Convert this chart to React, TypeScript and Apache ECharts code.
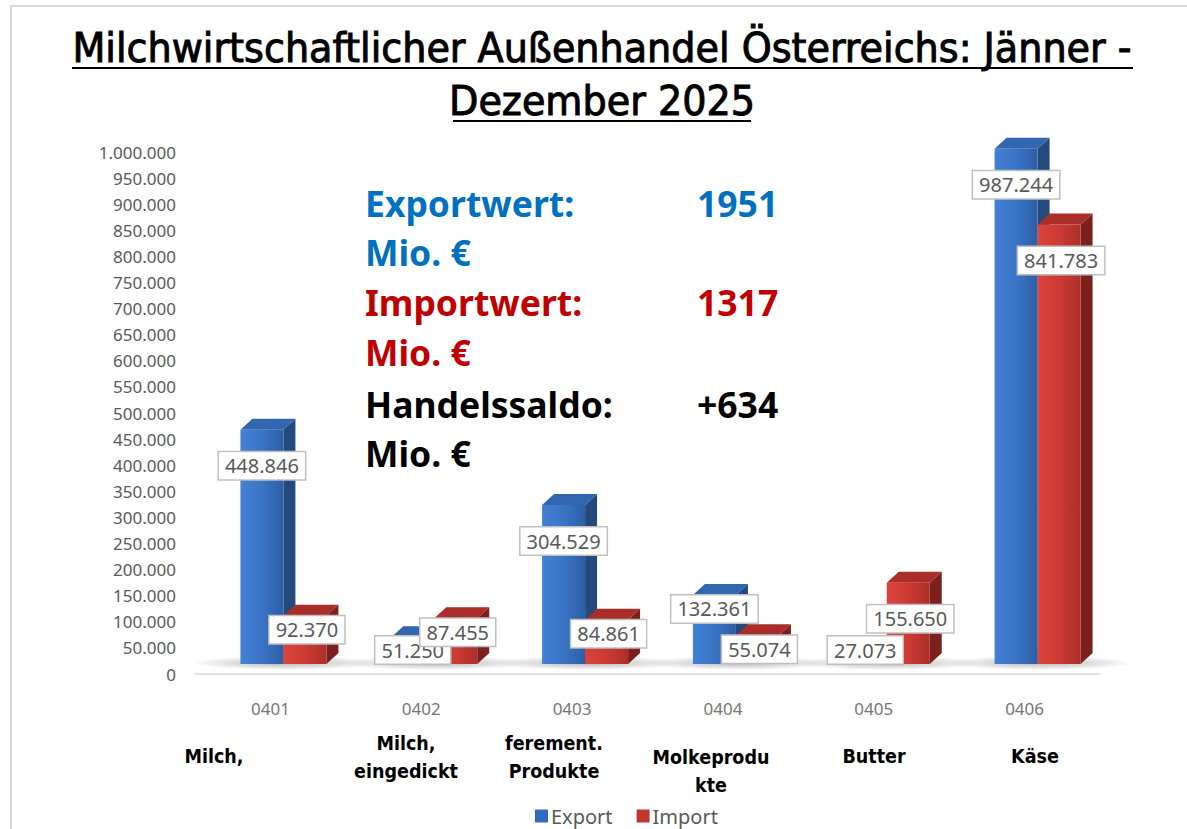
import React, { useEffect, useRef } from "react";
import * as echarts from "echarts";

const categories = ["0401", "0402", "0403", "0404", "0405", "0406"];
const descriptions = ["Milch,", "Milch,\neingedickt", "ferement.\nProdukte", "Molkeprodu\nkte", "Butter", "Käse"];
const exportValues = [448846, 51250, 304529, 132361, 27073, 987244];
const importValues = [92370, 87455, 84861, 55074, 155650, 841783];
const seriesNames = ["Export", "Import"];
const titleLines = ["Milchwirtschaftlicher Außenhandel Österreichs: Jänner -", "Dezember 2025"];
const summaryLabels = ["Exportwert:", "Mio. €", "Importwert:", "Mio. €", "Handelssaldo:", "Mio. €"];
const summaryValues = ["1951", "", "1317", "", "+634", ""];

const fmt = (v: number) => String(Math.round(v)).replace(/\B(?=(\d{3})+(?!\d))/g, ".");

const BW = 43; // bar front width
const SHIFT = 13; // pair centre offset
const LIFT = 10; // front-face lift
const DX = 12;
const DY = 11;

const palettes = [
  { front: ["#4381d6", "#3a74c4", "#2c5ea6"], side: "#24497c", top: "#3266b0", legend: "#2f6cc0" },
  { front: ["#dc443c", "#cc3a33", "#ad2f2a"], side: "#7c201d", top: "#a92d28", legend: "#c0352f" },
];

function geom(api: any, idx: number) {
  const cat = api.value(0);
  const val = api.value(1);
  const c = api.coord([cat, val]);
  const b = api.coord([cat, 0]);
  const left = c[0] + SHIFT + (idx === 0 ? -BW : 0);
  return { left, yTop: c[1] - LIFT, yBot: b[1] - LIFT, val, cx: c[0] };
}

function makeBarRender(idx: number) {
  const p = palettes[idx];
  return (params: any, api: any) => {
    const g = geom(api, idx);
    const h = Math.max(g.yBot - g.yTop, 0);
    const children: any[] = [];
    if (idx === 0) {
      children.push({
        type: "ellipse",
        shape: { cx: g.cx + SHIFT + 2, cy: g.yBot - 1, rx: BW * 2 + 8, ry: 7 },
        style: {
          fill: {
            type: "radial", x: 0.5, y: 0.5, r: 0.5,
            colorStops: [
              { offset: 0, color: "rgba(0,0,0,0.28)" },
              { offset: 0.6, color: "rgba(0,0,0,0.12)" },
              { offset: 1, color: "rgba(0,0,0,0)" },
            ],
          },
        },
      });
    }
    children.push({
      type: "polygon",
      shape: { points: [[g.left + BW, g.yTop], [g.left + BW + DX, g.yTop - DY], [g.left + BW + DX, g.yBot - DY], [g.left + BW, g.yBot]] },
      style: { fill: p.side },
    });
    children.push({
      type: "polygon",
      shape: { points: [[g.left, g.yTop], [g.left + DX, g.yTop - DY], [g.left + BW + DX, g.yTop - DY], [g.left + BW, g.yTop]] },
      style: { fill: p.top },
    });
    children.push({
      type: "rect",
      shape: { x: g.left, y: g.yTop, width: BW, height: h },
      style: {
        fill: {
          type: "linear", x: 0, y: 0, x2: 1, y2: 0,
          colorStops: [
            { offset: 0, color: p.front[0] },
            { offset: 0.5, color: p.front[1] },
            { offset: 1, color: p.front[2] },
          ],
        },
      },
    });
    return { type: "group", children };
  };
}

function makeLabelRender(idx: number) {
  return (params: any, api: any) => {
    const g = geom(api, idx);
    const h = g.yBot - g.yTop;
    const x = g.left + BW / 2 + (idx === 1 ? 2 : 0);
    const y = Math.min(g.yTop + (h > 75 ? 36 : 14), 650);
    return {
      type: "text",
      style: {
        text: fmt(g.val),
        x,
        y,
        align: "center",
        verticalAlign: "middle",
        fill: "#595959",
        fontSize: 20,
        fontFamily: "'Noto Sans', sans-serif",
        backgroundColor: "#ffffff",
        borderColor: "#bfbfbf",
        borderWidth: 1.5,
        padding: [4, 6, 3, 6],
      },
    };
  };
}

export default function App() {
  const ref = useRef<HTMLDivElement>(null);
  useEffect(() => {
    if (!ref.current) return;
    const chart = echarts.init(ref.current, null, { renderer: "svg" });
    const exportData = exportValues.map((v, i) => [i, v]);
    const importData = importValues.map((v, i) => [i, v]);

    const graphics: any[] = [];
    // frame
    graphics.push({ type: "line", shape: { x1: 10, y1: 6, x2: 1187, y2: 6 }, style: { stroke: "#d9d9d9", lineWidth: 2 } });
    graphics.push({ type: "line", shape: { x1: 11, y1: 6, x2: 11, y2: 829 }, style: { stroke: "#d9d9d9", lineWidth: 2 } });
    // title
    const titleY = [48, 101];
    const titleUnder = [[72, 1133, 68], [453, 751, 121]];
    titleLines.forEach((t, i) => {
      graphics.push({
        type: "text",
        x: 602,
        y: titleY[i],
        scaleX: 1.06,
        style: {
          text: t, align: "center", verticalAlign: "middle", fill: "#000",
          stroke: "#000", lineWidth: 0.9,
          fontSize: 40, fontWeight: "normal",
          fontFamily: "'DejaVu Sans Condensed', 'Noto Sans', sans-serif",
        },
      });
      const u = titleUnder[i];
      graphics.push({ type: "line", shape: { x1: u[0], y1: u[2], x2: u[1], y2: u[2] }, style: { stroke: "#000", lineWidth: 2 } });
    });
    // summary
    const sumColors = ["#0070c0", "#0070c0", "#c00000", "#c00000", "#000000", "#000000"];
    const sumY = [203, 252, 302, 352, 404, 453];
    summaryLabels.forEach((t, i) => {
      graphics.push({
        type: "text", x: 365, y: sumY[i],
        style: { text: t, align: "left", verticalAlign: "middle", fill: sumColors[i], fontSize: 35.5, fontWeight: "bold", fontFamily: "'Noto Sans', sans-serif" },
      });
      if (summaryValues[i]) {
        graphics.push({
          type: "text", x: 697, y: sumY[i],
          style: { text: summaryValues[i], align: "left", verticalAlign: "middle", fill: sumColors[i], fontSize: 35.5, fontWeight: "bold", fontFamily: "'Noto Sans', sans-serif" },
        });
      }
    });
    // category descriptions
    const descX = [214, 406, 554, 711, 874, 1035];
    descriptions.forEach((t, i) => {
      const twoLine = t.includes("\n");
      graphics.push({
        type: "text", x: descX[i], y: twoLine ? (i === 3 ? 771 : 757) : 756,
        style: {
          text: t, align: "center", verticalAlign: "middle", fill: "#000", fontSize: 19.5, fontWeight: "bold",
          lineHeight: 28,
          fontFamily: "'DejaVu Sans Condensed', 'Noto Sans', sans-serif",
        },
      });
    });

    chart.setOption({
      animation: false,
      backgroundColor: "#ffffff",
      grid: { left: 195, right: 87, top: 152, bottom: 155, containLabel: false },
      legend: {
        data: seriesNames.map((n, i) => ({ name: n, icon: "rect", itemStyle: { color: palettes[i].legend } })),
        top: 801,
        left: 530,
        itemWidth: 13,
        itemHeight: 13,
        itemGap: 24,
        textStyle: { color: "#595959", fontSize: 20, padding: [0, 0, 0, -2], fontFamily: "'Noto Sans', sans-serif" },
      },
      xAxis: {
        type: "category",
        data: categories,
        axisLine: { show: true, lineStyle: { color: "#d9d9d9", width: 1.5 } },
        axisTick: { show: false },
        axisLabel: { color: "#767676", fontSize: 17, margin: 26, fontFamily: "'Noto Sans', sans-serif" },
      },
      yAxis: {
        type: "value",
        min: 0,
        max: 1000000,
        interval: 50000,
        splitLine: { show: false },
        axisLine: { show: false },
        axisTick: { show: false },
        axisLabel: { color: "#595959", fontSize: 17, margin: 19, formatter: (v: number) => fmt(v), fontFamily: "'Noto Sans', sans-serif" },
      },
      graphic: graphics,
      series: [
        { name: seriesNames[0], type: "custom", renderItem: makeBarRender(0), data: exportData, itemStyle: { color: palettes[0].legend }, encode: { x: 0, y: 1 }, z: 2 },
        { name: seriesNames[1], type: "custom", renderItem: makeBarRender(1), data: importData, itemStyle: { color: palettes[1].legend }, encode: { x: 0, y: 1 }, z: 3 },
        { name: "ExportLabel", type: "custom", renderItem: makeLabelRender(0), data: exportData, encode: { x: 0, y: 1 }, z: 5, silent: true },
        { name: "ImportLabel", type: "custom", renderItem: makeLabelRender(1), data: importData, encode: { x: 0, y: 1 }, z: 6, silent: true },
      ],
    });
    return () => chart.dispose();
  }, []);
  return <div ref={ref} style={{ position: "fixed", left: 0, top: 0, width: 1187, height: 829, background: "#fff" }} />;
}
